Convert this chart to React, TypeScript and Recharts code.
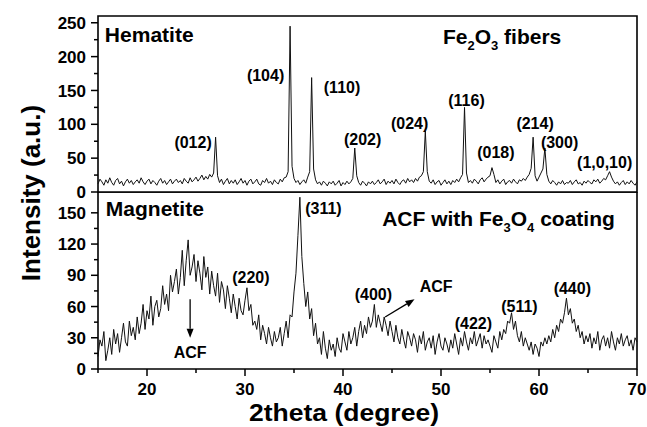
import React from "react";
import {
  LineChart,
  Line,
  XAxis,
  YAxis,
  ReferenceArea,
  ReferenceDot,
  ReferenceLine,
} from "recharts";

const FONT = '"Liberation Sans", Arial, Helvetica, sans-serif';

// 2theta grid: 15.0 .. 70.0 every 0.2 degree
const X_START = 15;
const X_STEP = 0.2;

// Fe2O3 fibers (hematite), one row = 2 degrees
const hematite = [
  12, 19, 15, 10, 18, 13, 21, 14, 10, 17,
  20, 12, 16, 9, 15, 19, 13, 17, 11, 15,
  18, 13, 21, 15, 11, 16, 19, 12, 17, 14,
  10, 16, 20, 13, 17, 11, 15, 19, 12, 16,
  19, 14, 17, 12, 20, 16, 13, 21, 15, 18,
  22, 16, 20, 25, 18, 23, 19, 26, 22, 28,
  81, 24, 14, 19, 11, 16, 20, 12, 17, 13,
  18, 11, 15, 20, 13, 17, 10, 16, 19, 12,
  15, 19, 12, 10, 17, 14, 20, 13, 16, 11,
  18, 14, 12, 19, 15, 21, 22, 30, 245, 38,
  20, 14, 17, 11, 15, 18, 13, 22, 30, 169,
  34, 18, 12, 15, 10, 16, 13, 9, 15, 12,
  16, 10, 13, 17, 9, 14, 11, 16, 12, 15,
  20, 65, 24, 14, 10, 16, 13, 9, 15, 12,
  16, 11, 14, 18, 12, 15, 19, 11, 16, 13,
  17, 12, 19, 14, 11, 16, 18, 13, 20, 15,
  18, 14, 20, 16, 22, 24, 30, 90, 30, 16,
  13, 18, 11, 15, 17, 10, 14, 18, 12, 16,
  11, 17, 14, 19, 15, 21, 26, 125, 28, 14,
  17, 13, 19, 16, 12, 18, 21, 15, 19, 22,
  24, 36, 26, 14, 18, 12, 16, 19, 11, 15,
  17, 13, 19, 15, 12, 18, 16, 20, 17, 22,
  26, 35, 81, 24, 16, 22, 28, 34, 65, 26,
  16, 12, 17, 14, 10, 15, 12, 17, 11, 14,
  13, 17, 11, 15, 18, 12, 14, 10, 16, 13,
  17, 14, 12, 18, 15, 19, 13, 16, 20, 18,
  24, 30, 22, 16, 12, 15, 10, 14, 17, 11,
  15, 12, 17, 13, 10, 15,
];

// ACF with Fe3O4 coating (magnetite)
const magnetite = [
  12, 28, 22, 36, 8, 18, 30, 14, 38, 24,
  34, 16, 30, 44, 26, 22, 46, 32, 40, 28,
  50, 34, 44, 62, 38, 56, 48, 70, 42, 60,
  66, 50, 58, 80, 62, 72, 56, 90, 74, 84,
  96, 72, 88, 114, 80, 104, 124, 90, 98, 110,
  84, 104, 92, 76, 108, 88, 98, 72, 94, 80,
  70, 92, 64, 84, 76, 58, 80, 68, 54, 72,
  60, 48, 68, 56, 52, 66, 78, 56, 62, 42,
  46, 38, 52, 28, 42, 34, 24, 40, 30, 22,
  36, 26, 30, 40, 22, 34, 46, 30, 52, 50,
  74, 92, 128, 165, 108, 82, 60, 74, 48, 58,
  32, 44, 24, 30, 14, 36, 20, 10, 28, 18,
  24, 12, 30, 20, 16, 34, 26, 18, 36, 24,
  30, 40, 22, 36, 46, 30, 42, 34, 50, 40,
  46, 62, 40, 52, 44, 36, 50, 42, 32, 46,
  36, 26, 42, 30, 24, 38, 28, 20, 36, 30,
  22, 34, 28, 16, 32, 24, 36, 18, 26, 30,
  20, 32, 14, 26, 34, 22, 18, 30, 24, 16,
  28, 20, 34, 24, 14, 30, 22, 36, 26, 18,
  30, 24, 36, 22, 28, 34, 20, 32, 24, 28,
  22, 16, 32, 26, 20, 36, 28, 38, 34, 46,
  44, 54, 38, 46, 32, 26, 36, 22, 30, 24,
  18, 26, 14, 24, 20, 12, 26, 22, 30, 24,
  32, 26, 38, 30, 42, 36, 48, 44, 54, 68,
  52, 58, 44, 48, 36, 42, 30, 36, 24, 32,
  26, 34, 20, 30, 24, 36, 18, 28, 32, 22,
  30, 20, 36, 26, 18, 30, 24, 34, 22, 28,
  32, 22, 28, 18, 30, 26,
];

const xTicks = [15, 20, 25, 30, 35, 40, 45, 50, 55, 60, 65, 70];
const topTicks = [0, 25, 50, 75, 100, 125, 150, 175, 200, 225, 250];
const bottomTicks = [0, 15, 30, 45, 60, 75, 90, 105, 120, 135, 150];

// peak labels: text centre in data units
const hematiteLabels = [
  { text: "(012)", x: 24.7, y: 74 },
  { text: "(104)", x: 32.1, y: 172 },
  { text: "(110)", x: 39.9, y: 155 },
  { text: "(202)", x: 42.0, y: 77 },
  { text: "(024)", x: 46.8, y: 102 },
  { text: "(116)", x: 52.6, y: 136 },
  { text: "(018)", x: 55.6, y: 58 },
  { text: "(214)", x: 59.6, y: 101 },
  { text: "(300)", x: 62.1, y: 74 },
  { text: "(1,0,10)", x: 66.7, y: 44 },
];

const magnetiteLabels = [
  { text: "(220)", x: 30.6, y: 88 },
  { text: "(311)", x: 38.0, y: 154 },
  { text: "(400)", x: 43.1, y: 72 },
  { text: "ACF", x: 49.5, y: 79 },
  { text: "(422)", x: 53.3, y: 44 },
  { text: "(511)", x: 58.0, y: 60 },
  { text: "(440)", x: 63.4, y: 77 },
  { text: "ACF", x: 24.4, y: 16 },
];

const acfArrows = [
  { from: { x: 24.4, y: 67 }, to: { x: 24.4, y: 30 } },
  { from: { x: 44.3, y: 50 }, to: { x: 47.3, y: 67 } },
];

const toPoints = (ys: number[]) =>
  ys.map((y, i) => ({ x: +(X_START + i * X_STEP).toFixed(1), y }));

const topData = toPoints(hematite);
const bottomData = toPoints(magnetite);

function YTick(props: any) {
  const { x, y, payload, major } = props;
  const isMajor = payload.value % major === 0;
  return (
    <g>
      <line x1={x} x2={x - (isMajor ? 7 : 4)} y1={y} y2={y} stroke="#000" strokeWidth={1.5} />
      {isMajor && (
        <text x={x - 12} y={y} dy="0.36em" textAnchor="end" fontFamily={FONT} fontWeight="bold" fontSize={17} fill="#000">
          {payload.value}
        </text>
      )}
    </g>
  );
}

function XTick(props: any) {
  const { x, y, payload } = props;
  const isMajor = payload.value % 10 === 0;
  return (
    <g>
      <line x1={x} x2={x} y1={y} y2={y + (isMajor ? 7 : 4)} stroke="#000" strokeWidth={1.5} />
      {isMajor && (
        <text x={x} y={y + 26} textAnchor="middle" fontFamily={FONT} fontWeight="bold" fontSize={17} fill="#000">
          {payload.value}
        </text>
      )}
    </g>
  );
}

const textAt = (content: React.ReactNode, size: number, anchor = "middle") => (p: any) => (
  <text x={p.cx} y={p.cy} dy="0.35em" textAnchor={anchor} fontFamily={FONT} fontWeight="bold" fontSize={size} fill="#000">
    {content}
  </text>
);

const arrowShape = (p: any) => {
  const { x1, y1, x2, y2 } = p;
  const a = Math.atan2(y2 - y1, x2 - x1);
  const len = 9;
  const w = 3.5;
  const bx = x2 - len * Math.cos(a);
  const by = y2 - len * Math.sin(a);
  const px = -Math.sin(a) * w;
  const py = Math.cos(a) * w;
  return (
    <g>
      <line x1={x1} y1={y1} x2={bx} y2={by} stroke="#000" strokeWidth={1.3} />
      <polygon points={`${x2},${y2} ${bx + px},${by + py} ${bx - px},${by - py}`} fill="#000" />
    </g>
  );
};

export default function App() {
  return (
    <div style={{ position: "fixed", left: 0, top: 0, width: 647, height: 427, background: "#fff" }}>
      <div style={{ position: "absolute", left: 0, top: 0 }}>
        <LineChart width={647} height={210} data={topData} margin={{ top: 16, right: 10, bottom: 18, left: 0 }}>
          <XAxis dataKey="x" type="number" domain={[15, 70]} ticks={xTicks} hide />
          <YAxis
            type="number"
            domain={[0, 260]}
            ticks={topTicks}
            width={98}
            axisLine={false}
            tickLine={false}
            tickSize={0}
            tickMargin={0}
            interval={0}
            tick={(p: any) => <YTick {...p} major={50} />}
          />
          <Line dataKey="y" stroke="#111" strokeWidth={1} dot={false} type="linear" isAnimationActive={false} />
          <ReferenceArea x1={15} x2={70} y1={0} y2={260} fill="none" stroke="#000" strokeWidth={1.6} ifOverflow="visible" />
          <ReferenceDot x={15.7} y={232} r={1} ifOverflow="visible" shape={textAt("Hematite", 21, "start")} />
          <ReferenceDot
            x={50.2}
            y={229}
            r={1}
            ifOverflow="visible"
            shape={textAt(
              <>
                Fe<tspan dy={6} fontSize={13}>2</tspan>
                <tspan dy={-6}>O</tspan>
                <tspan dy={6} fontSize={13}>3</tspan>
                <tspan dy={-6}>{" fibers"}</tspan>
              </>,
              21,
              "start"
            )}
          />
          {hematiteLabels.map((l, i) => (
            <ReferenceDot key={i} x={l.x} y={l.y} r={1} ifOverflow="visible" shape={textAt(l.text, 16)} />
          ))}
        </LineChart>
      </div>
      <div style={{ position: "absolute", left: 0, top: 192 }}>
        <LineChart width={647} height={235} data={bottomData} margin={{ top: 0, right: 10, bottom: 0, left: 0 }}>
          <XAxis
            dataKey="x"
            type="number"
            domain={[15, 70]}
            ticks={xTicks}
            height={58}
            axisLine={false}
            tickLine={false}
            tickSize={0}
            tickMargin={0}
            interval={0}
            tick={(p: any) => <XTick {...p} />}
          />
          <YAxis
            type="number"
            domain={[0, 170]}
            ticks={bottomTicks}
            width={98}
            axisLine={false}
            tickLine={false}
            tickSize={0}
            tickMargin={0}
            interval={0}
            tick={(p: any) => <YTick {...p} major={30} />}
          />
          <Line dataKey="y" stroke="#111" strokeWidth={1} dot={false} type="linear" isAnimationActive={false} />
          <ReferenceArea x1={15} x2={70} y1={0} y2={170} fill="none" stroke="#000" strokeWidth={1.6} ifOverflow="visible" />
          <ReferenceDot x={15.8} y={154} r={1} ifOverflow="visible" shape={textAt("Magnetite", 21, "start")} />
          <ReferenceDot
            x={44.0}
            y={144}
            r={1}
            ifOverflow="visible"
            shape={textAt(
              <>
                {"ACF with Fe"}
                <tspan dy={6} fontSize={13}>3</tspan>
                <tspan dy={-6}>O</tspan>
                <tspan dy={6} fontSize={13}>4</tspan>
                <tspan dy={-6}>{" coating"}</tspan>
              </>,
              21,
              "start"
            )}
          />
          {magnetiteLabels.map((l, i) => (
            <ReferenceDot key={i} x={l.x} y={l.y} r={1} ifOverflow="visible" shape={textAt(l.text, 16)} />
          ))}
          {acfArrows.map((a, i) => (
            <ReferenceLine key={i} segment={[a.from, a.to]} ifOverflow="visible" shape={arrowShape} />
          ))}
        </LineChart>
      </div>
      <svg width={647} height={427} style={{ position: "absolute", left: 0, top: 0, pointerEvents: "none" }}>
        <text
          x={31}
          y={193}
          transform="rotate(-90 31 193)"
          dy="0.35em"
          textAnchor="middle"
          fontFamily={FONT}
          fontWeight="bold"
          fontSize={26}
          fill="#000"
        >
          Intensity (a.u.)
        </text>
        <text
          x={344}
          y={421}
          textAnchor="middle"
          fontFamily={FONT}
          fontWeight="bold"
          fontSize={24}
          textLength={190}
          lengthAdjust="spacingAndGlyphs"
          fill="#000"
        >
          2theta (degree)
        </text>
      </svg>
    </div>
  );
}
